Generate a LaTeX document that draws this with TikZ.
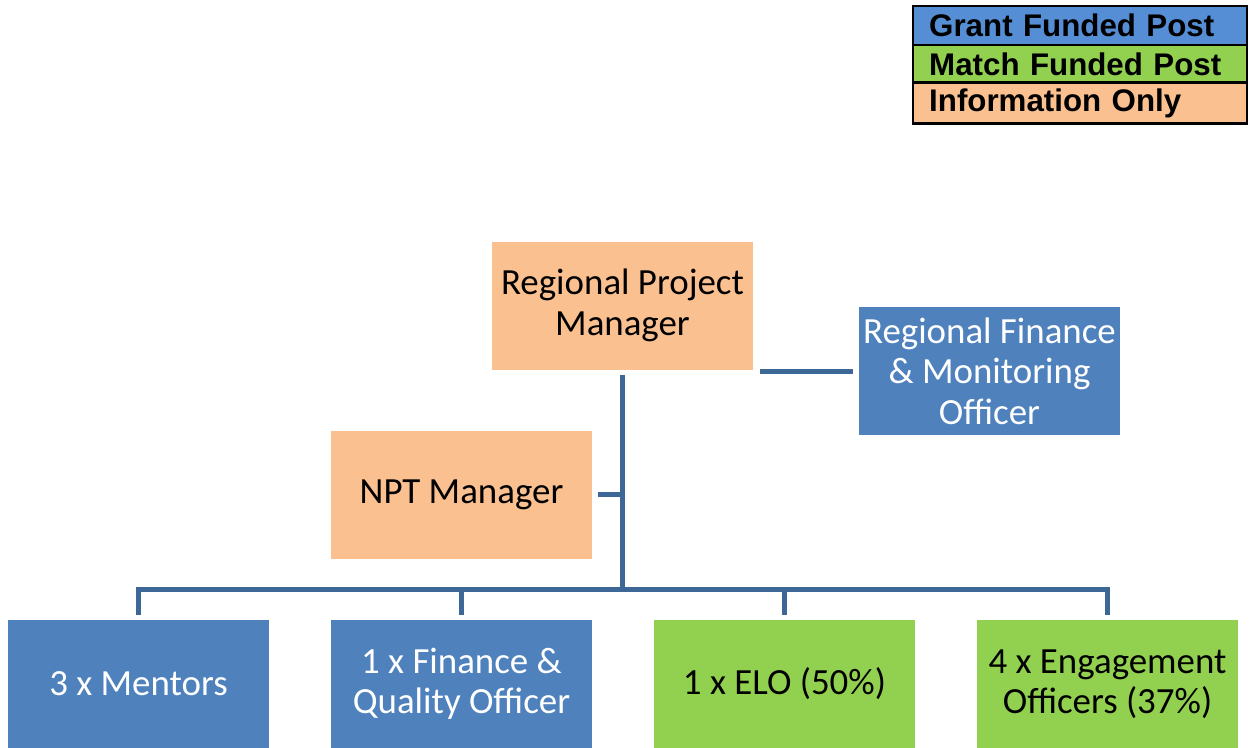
\documentclass[tikz,border=0pt]{standalone}
\usepackage{fontspec}
\setmainfont{Carlito}
\newfontfamily\legendfont{Liberation Sans}
\definecolor{grantblue}{HTML}{4F81BD}
\definecolor{keyblue}{HTML}{558ED5}
\definecolor{matchgreen}{HTML}{92D050}
\definecolor{infoorange}{HTML}{FAC090}
\definecolor{linkblue}{HTML}{3C6796}
\tikzset{
  post/.style={minimum width=5.22cm, minimum height=2.56cm, align=center,
    inner sep=0pt, font=\fontsize{21}{23}\selectfont},
  grant/.style={post, fill=grantblue, text=white},
  match/.style={post, fill=matchgreen},
  info/.style={post, fill=infoorange},
  key/.style={draw=black, line width=1.4pt, anchor=west, minimum width=6.68cm,
    minimum height=0.78cm, text width=6.04cm, inner xsep=0.32cm, align=left,
    font=\legendfont\bfseries\fontsize{17.8}{18}\selectfont},
  link/.style={draw=linkblue, line width=0.1cm}
}
\begin{document}
\begin{tikzpicture}
\useasboundingbox (0,0) rectangle (25,-14.94);

% key
\node[key, fill=keyblue] (kgrant) at (18.24,-0.51) {Grant Funded Post};
\node[key, fill=matchgreen] (kmatch) at (18.24,-1.29) {Match Funded Post};
\node[key, fill=infoorange] (kinfo) at (18.24,-2.06) {Information Only};

% posts
\node[info] (rpm) at (12.45,-6.11) {Regional Project\\Manager};
\node[grant] (rfmo) at (19.79,-7.42) {Regional Finance\\\& Monitoring\\Officer};
\node[info] (npt) at (9.23,-9.89) {NPT Manager};
\node[grant] (mentors) at (2.77,-13.68) {3 x Mentors};
\node[grant] (fqo) at (9.23,-13.68) {1 x Finance \&\\Quality Officer};
\node[match] (elo) at (15.69,-13.68) {1 x ELO (50\%)};
\node[match] (eng) at (22.15,-13.68) {4 x Engagement\\Officers (37\%)};

% lines
\coordinate (bar) at (12.45,-11.78);
\draw[link, shorten <=0.1cm] (rpm.south) -- (rpm.south |- bar);
\draw[link, line cap=rect] (mentors.north |- bar) -- (eng.north |- bar);
\draw[link, shorten <=0.12cm] (npt.east) -- (rpm.south |- npt.east);
\draw[link, shorten <=0.14cm, shorten >=0.12cm] (rpm.east |- rfmo.west) -- (rfmo.west);
\foreach \n in {mentors,fqo,elo,eng}
  \draw[link, shorten >=0.1cm] (\n.north |- bar) -- (\n.north);
\end{tikzpicture}
\end{document}
